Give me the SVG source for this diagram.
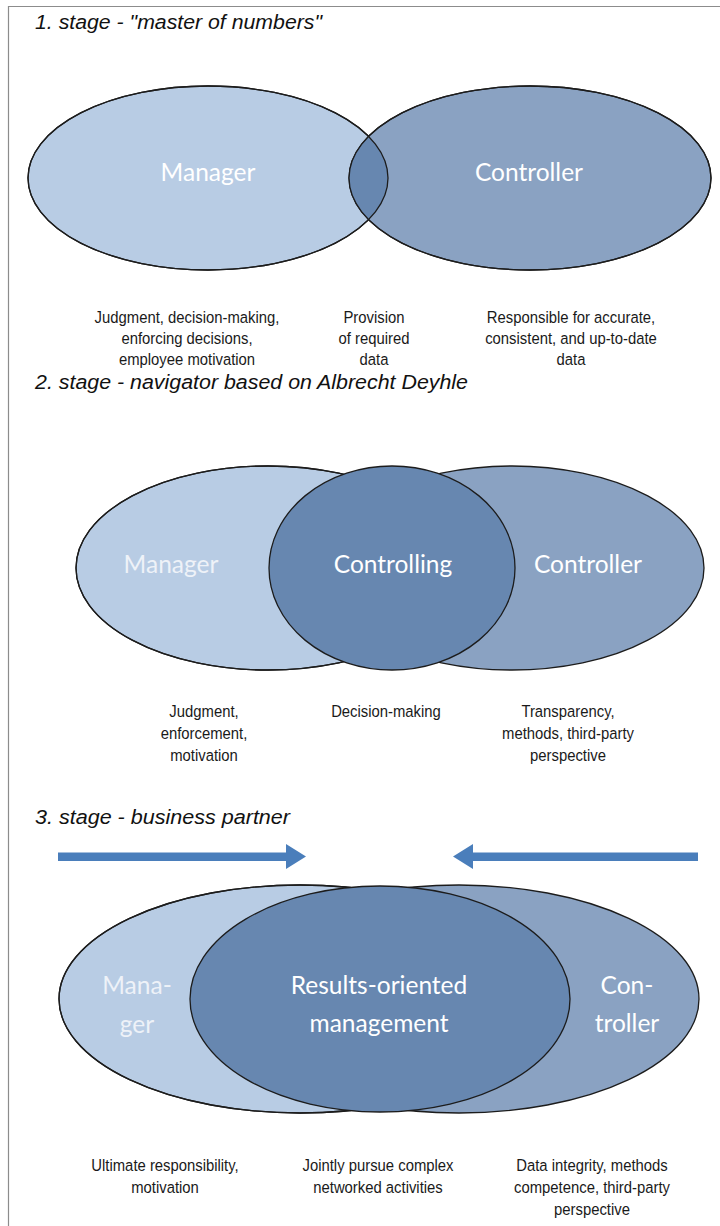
<svg xmlns="http://www.w3.org/2000/svg" width="720" height="1226" viewBox="0 0 720 1226">
<style>
.bg{fill:#ffffff}
.frame{fill:none;stroke:#8c8c8c;stroke-width:1.2}
.title{font-family:"Liberation Sans",Arial,sans-serif;font-style:italic;font-size:20.5px;fill:#111111}
.lbl{font-family:"Liberation Sans",Arial,sans-serif;font-size:16.5px;fill:#1a1a1a;text-anchor:middle}
.big{font-family:Lato,"Open Sans",sans-serif;font-size:24.5px;fill:#ffffff;text-anchor:middle}
.faint{fill:#eef2f8}
.e{stroke:#1c1c1c;stroke-width:1.3}
.l{fill:#b8cce4}
.r{fill:#8aa2c2}
.m{fill:#6787b0}
.arrow{fill:#4a7ebb}
</style>
<rect class="bg" x="0" y="0" width="720" height="1226"/>
<path class="frame" d="M8.5 1226 V6.5 H720"/>

<text class="title" x="35" y="29" textLength="287" lengthAdjust="spacingAndGlyphs">1. stage - "master of numbers"</text>
<text class="title" x="35" y="389" textLength="433" lengthAdjust="spacingAndGlyphs">2. stage - navigator based on Albrecht Deyhle</text>
<text class="title" x="35" y="824" textLength="255" lengthAdjust="spacingAndGlyphs">3. stage - business partner</text>

<!-- Stage 1 -->
<g id="s1-manager">
  <ellipse class="e l" cx="208" cy="178" rx="180" ry="92"/>
</g>
<g id="s1-controller">
  <ellipse class="e r" cx="530" cy="178" rx="181" ry="92"/>
</g>
<g id="s1-overlap">
  <clipPath id="c1"><ellipse cx="208" cy="178" rx="180" ry="92"/></clipPath>
  <ellipse class="m" cx="530" cy="178" rx="181" ry="92" clip-path="url(#c1)"/>
  <ellipse fill="none" class="e" cx="208" cy="178" rx="180" ry="92"/>
  <ellipse fill="none" class="e" cx="530" cy="178" rx="181" ry="92"/>
  <text class="big" x="208" y="181">Manager</text>
  <text class="big" x="529" y="181">Controller</text>
</g>
<g id="s1-labels">
  <g transform="translate(187,0) scale(0.9,1)">
    <text class="lbl" x="0" y="323">Judgment, decision-making,</text>
    <text class="lbl" x="0" y="344">enforcing decisions,</text>
    <text class="lbl" x="0" y="365">employee motivation</text>
  </g>
  <g transform="translate(374,0) scale(0.9,1)">
    <text class="lbl" x="0" y="323">Provision</text>
    <text class="lbl" x="0" y="344">of required</text>
    <text class="lbl" x="0" y="365">data</text>
  </g>
  <g transform="translate(571,0) scale(0.9,1)">
    <text class="lbl" x="0" y="323">Responsible for accurate,</text>
    <text class="lbl" x="0" y="344">consistent, and up-to-date</text>
    <text class="lbl" x="0" y="365">data</text>
  </g>
</g>

<!-- Stage 2 -->
<g id="s2-manager">
  <ellipse class="e l" cx="268" cy="568" rx="192" ry="102"/>
</g>
<g id="s2-controller">
  <ellipse class="e r" cx="512" cy="568" rx="192" ry="102"/>
  <ellipse fill="none" class="e" cx="268" cy="568" rx="192" ry="102"/>
</g>
<g id="s2-controlling">
  <ellipse class="e m" cx="392" cy="568" rx="123" ry="102"/>
</g>
<g id="s2-text">
  <text class="big faint" x="171" y="573">Manager</text>
  <text class="big" x="393" y="573">Controlling</text>
  <text class="big" x="588" y="573">Controller</text>
</g>
<g id="s2-labels">
  <g transform="translate(204,0) scale(0.9,1)">
    <text class="lbl" x="0" y="717">Judgment,</text>
    <text class="lbl" x="0" y="739">enforcement,</text>
    <text class="lbl" x="0" y="761">motivation</text>
  </g>
  <g transform="translate(386,0) scale(0.9,1)">
    <text class="lbl" x="0" y="717">Decision-making</text>
  </g>
  <g transform="translate(568,0) scale(0.9,1)">
    <text class="lbl" x="0" y="717">Transparency,</text>
    <text class="lbl" x="0" y="739">methods, third-party</text>
    <text class="lbl" x="0" y="761">perspective</text>
  </g>
</g>

<!-- Stage 3 -->
<g id="connectors">
  <path class="arrow" d="M58 852.5 H286 V844 L306 856.5 L286 869 V861 H58 Z"/>
  <path class="arrow" d="M698 852.5 H473 V844 L453 856.5 L473 869 V861 H698 Z"/>
</g>
<g id="s3-manager">
  <ellipse class="e l" cx="300" cy="999" rx="241" ry="114"/>
</g>
<g id="s3-controller">
  <ellipse class="e r" cx="459" cy="999" rx="240" ry="114"/>
  <ellipse fill="none" class="e" cx="300" cy="999" rx="241" ry="114"/>
</g>
<g id="s3-results">
  <ellipse class="e m" cx="380" cy="999" rx="190" ry="113"/>
</g>
<g id="s3-text">
  <text class="big faint" x="137" y="994">Mana-</text>
  <text class="big faint" x="137" y="1033">ger</text>
  <text class="big" x="379" y="994">Results-oriented</text>
  <text class="big" x="379" y="1032">management</text>
  <text class="big" x="627" y="994">Con-</text>
  <text class="big" x="627" y="1032">troller</text>
</g>
<g id="s3-labels">
  <g transform="translate(165,0) scale(0.9,1)">
    <text class="lbl" x="0" y="1171">Ultimate responsibility,</text>
    <text class="lbl" x="0" y="1193">motivation</text>
  </g>
  <g transform="translate(378,0) scale(0.9,1)">
    <text class="lbl" x="0" y="1171">Jointly pursue complex</text>
    <text class="lbl" x="0" y="1193">networked activities</text>
  </g>
  <g transform="translate(592,0) scale(0.9,1)">
    <text class="lbl" x="0" y="1171">Data integrity, methods</text>
    <text class="lbl" x="0" y="1193">competence, third-party</text>
    <text class="lbl" x="0" y="1215">perspective</text>
  </g>
</g>
</svg>
